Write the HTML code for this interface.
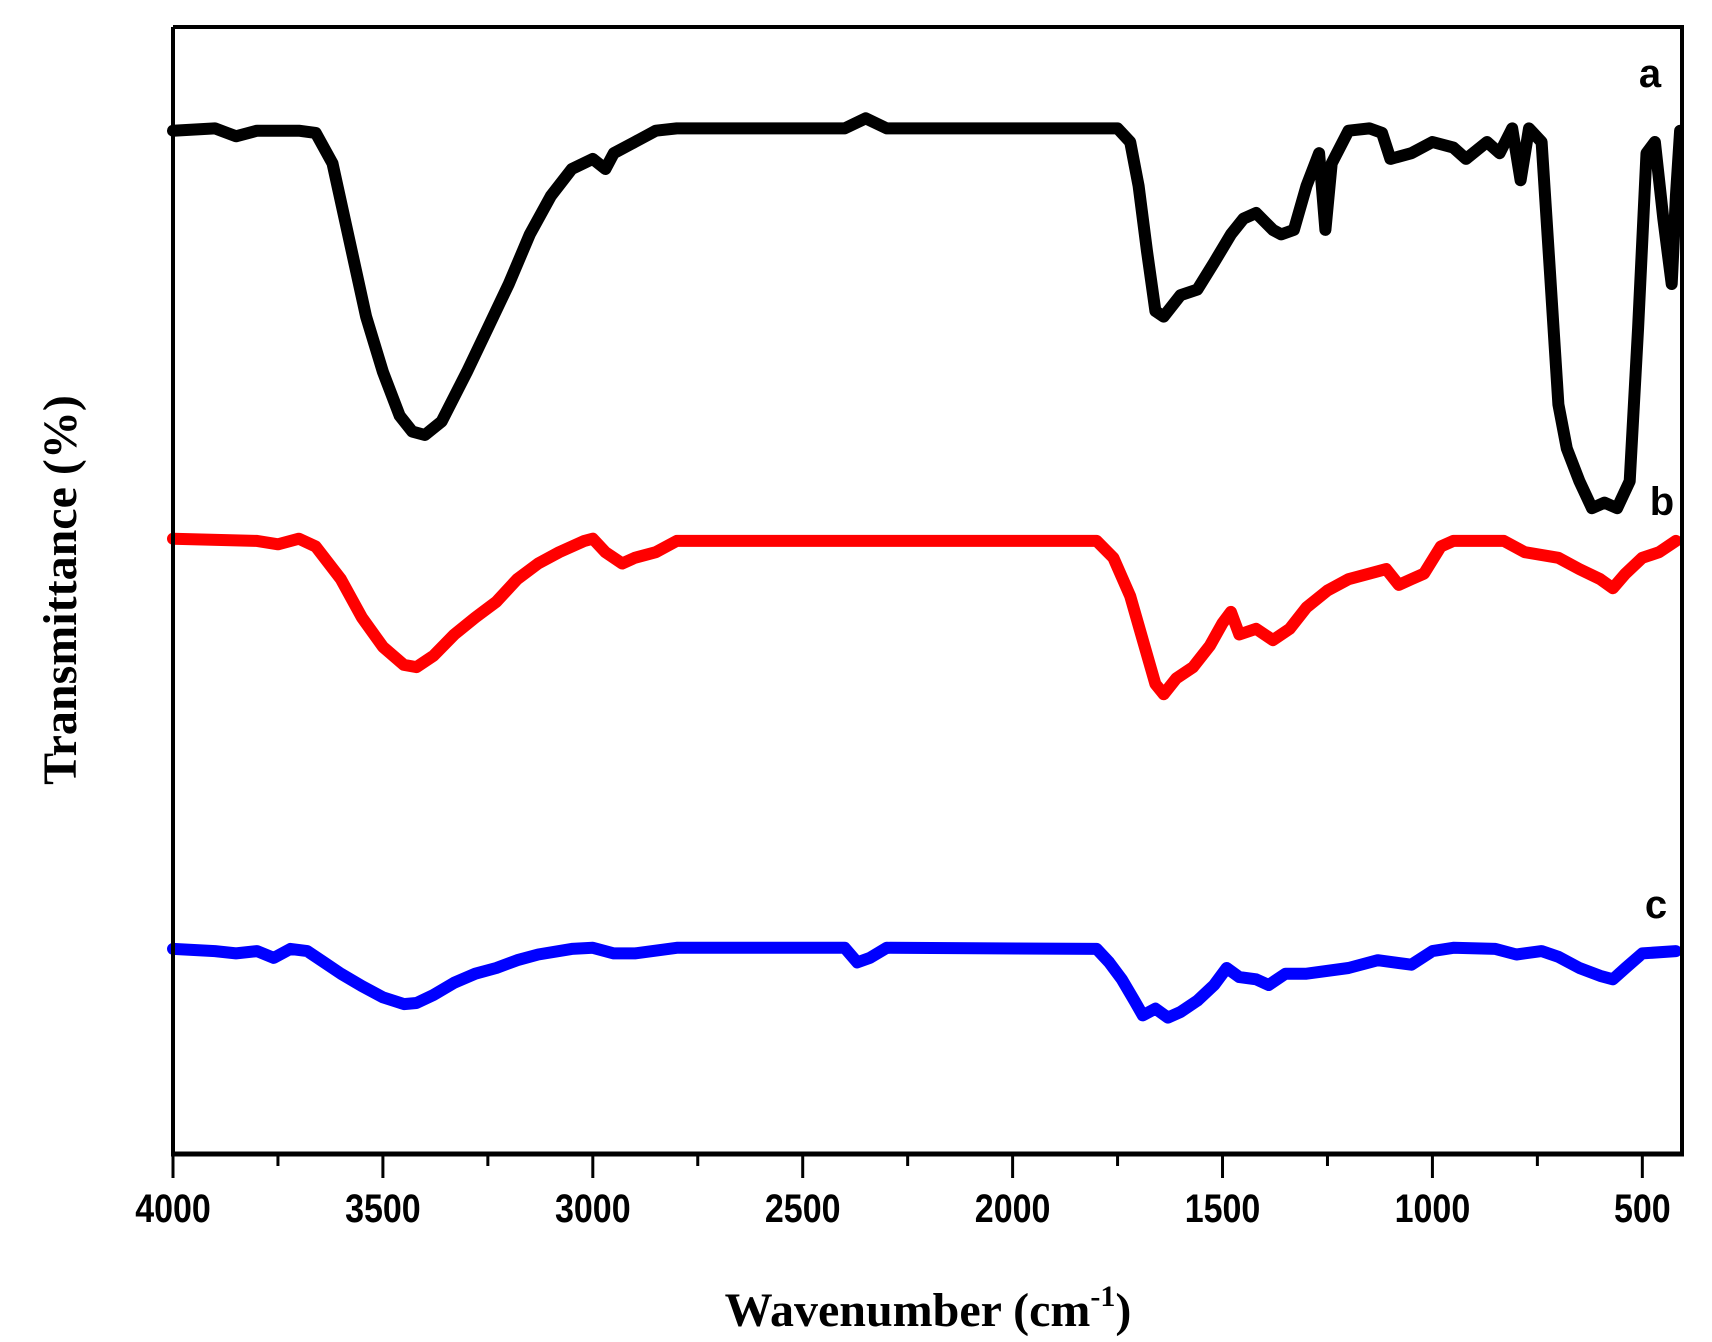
<!DOCTYPE html>
<html><head><meta charset="utf-8"><style>
html,body{margin:0;padding:0;background:#fff;}
svg{display:block;}
</style></head><body>
<svg id="chart" width="1712" height="1342" viewBox="0 0 1712 1342" xmlns="http://www.w3.org/2000/svg">
<rect x="0" y="0" width="1712" height="1342" fill="#fff"/>
<g id="series"></g>
<g id="axes"></g>
<text x="928" y="1326" text-anchor="middle" font-family="Liberation Serif, serif" font-weight="bold" font-size="48">Wavenumber (cm<tspan dy="-20" font-size="30">-1</tspan><tspan dy="20">)</tspan></text>
<text transform="translate(76,590) rotate(-90)" text-anchor="middle" font-family="Liberation Serif, serif" font-weight="bold" font-size="48">Transmittance (%)</text>
<text x="1650" y="87" text-anchor="middle" font-family="Liberation Sans, sans-serif" font-weight="bold" font-size="40">a</text>
<text x="1662" y="515" text-anchor="middle" font-family="Liberation Sans, sans-serif" font-weight="bold" font-size="40">b</text>
<text x="1656" y="918" text-anchor="middle" font-family="Liberation Sans, sans-serif" font-weight="bold" font-size="40">c</text>
</svg>
<script>
const waveA=[4000,3900,3850,3800,3700,3660,3620,3580,3540,3500,3460,3430,3400,3360,3300,3250,3200,3150,3100,3050,3000,2970,2950,2900,2850,2800,2400,2350,2300,1750,1720,1700,1680,1660,1640,1600,1560,1520,1480,1450,1420,1380,1360,1330,1300,1270,1255,1240,1200,1150,1120,1100,1050,1000,950,920,870,840,810,790,770,740,720,700,680,650,620,590,560,530,510,490,470,450,430,420,410];
const transA=[90.8,91.0,90.3,90.8,90.8,90.6,87.9,81.1,74.3,69.4,65.5,64.1,63.8,65.0,69.4,73.3,77.2,81.6,85.0,87.4,88.3,87.4,88.8,89.8,90.8,91.0,91.0,91.9,91.0,91.0,89.8,85.9,80.1,74.8,74.3,76.2,76.7,79.1,81.6,83.0,83.5,82.0,81.6,82.0,85.9,88.8,82.0,87.9,90.8,91.0,90.6,88.3,88.8,89.8,89.3,88.3,89.8,88.8,91.0,86.4,91.0,89.8,78.2,66.5,62.6,59.7,57.3,57.8,57.3,59.7,73.3,88.8,89.8,83.0,77.2,85.0,90.8];
const waveB=[4000,3800,3750,3700,3660,3600,3550,3500,3450,3420,3380,3330,3280,3230,3180,3130,3080,3020,3000,2970,2930,2900,2850,2800,1800,1760,1720,1690,1660,1640,1610,1570,1530,1500,1480,1460,1420,1380,1340,1300,1250,1200,1150,1110,1080,1050,1020,980,950,880,830,780,700,650,600,570,540,500,460,420];
const transB=[54.6,54.4,54.1,54.6,53.9,51.0,47.6,45.0,43.4,43.2,44.2,46.1,47.6,49.0,51.0,52.4,53.4,54.4,54.6,53.4,52.4,52.9,53.4,54.4,54.4,52.9,49.5,45.6,41.7,40.8,42.2,43.2,45.1,47.1,48.1,46.1,46.6,45.6,46.6,48.5,50.0,51.0,51.5,51.9,50.5,51.0,51.5,53.9,54.4,54.4,54.4,53.4,52.9,51.9,51.0,50.2,51.5,52.9,53.4,54.4];
const waveC=[4000,3900,3850,3800,3760,3720,3680,3640,3600,3550,3500,3450,3420,3380,3330,3280,3230,3180,3130,3050,3000,2950,2900,2800,2400,2370,2340,2300,1800,1770,1740,1710,1690,1660,1630,1600,1560,1520,1490,1460,1420,1390,1350,1300,1200,1130,1050,1000,950,850,800,740,700,650,600,570,540,500,420];
const transC=[18.2,18.0,17.8,18.0,17.4,18.2,18.0,17.0,16.0,14.9,13.9,13.3,13.4,14.1,15.2,16.0,16.5,17.2,17.7,18.2,18.3,17.8,17.8,18.3,18.3,17.0,17.4,18.3,18.2,17.0,15.5,13.6,12.3,12.9,12.1,12.6,13.6,15.0,16.5,15.7,15.5,15.0,16.0,16.0,16.5,17.2,16.8,18.0,18.3,18.2,17.7,18.0,17.5,16.5,15.8,15.5,16.5,17.8,18.0];
const xTicks=[4000,3500,3000,2500,2000,1500,1000,500];
const xMinor=[3750,3250,2750,2250,1750,1250,750];

const L=173,R=1682,T=27,B=1154;
const X0=4000,X1=405.5;
const x=w=>L+(X0-w)/(X0-X1)*(R-L);
const y=v=>B-v/100*(B-T);
const NS='http://www.w3.org/2000/svg';
const gS=document.getElementById('series');
const gA=document.getElementById('axes');
function mk(tag,attrs,parent){const e=document.createElementNS(NS,tag);for(const k in attrs)e.setAttribute(k,attrs[k]);parent.appendChild(e);return e;}
function line(ws,vs,color,name){
  const d=ws.map((w,i)=>(i?'L':'M')+x(w).toFixed(1)+','+y(vs[i]).toFixed(1)).join(' ');
  const p=mk('path',{d:d,fill:'none',stroke:color,'stroke-width':12,'stroke-linejoin':'round','stroke-linecap':'round'},gS);
  
  
}
line(waveA,transA,'#000','series-a');
line(waveB,transB,'#ff0000','series-b');
line(waveC,transC,'#0000ff','series-c');
mk('rect',{x:R+2,y:0,width:40,height:1342,fill:'#fff'},gA);
const frame=mk('path',{d:`M${L},${T} L${R},${T} L${R},${B} M${L},${T} L${L},${B}`,fill:'none',stroke:'#000','stroke-width':4},gA);


const xaxis=mk('line',{x1:L-2,x2:R+2,y1:B,y2:B,stroke:'#000','stroke-width':5},gA);


xTicks.forEach(t=>{
  const tk=mk('line',{x1:x(t),x2:x(t),y1:B,y2:B+24,stroke:'#000','stroke-width':3},gA);
  
  
  const tx=mk('text',{x:0,y:0,'text-anchor':'middle','font-family':'Liberation Sans, sans-serif','font-weight':'bold','font-size':40,transform:`translate(${x(t)},${B+68}) scale(0.85,1)`},gA);
  tx.textContent=t;
  
  
});
xMinor.forEach(t=>{
  const tk=mk('line',{x1:x(t),x2:x(t),y1:B,y2:B+12,stroke:'#000','stroke-width':3},gA);
  
  
});
</script>
</body></html>
